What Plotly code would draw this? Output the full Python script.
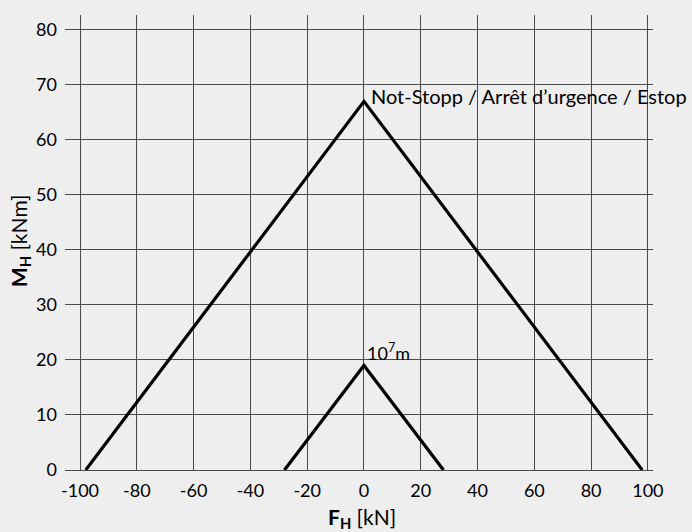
import plotly.graph_objects as go

# Emergency-stop envelope and 10^7 m service envelope (F_H vs M_H)
estop_fh = [-98, 0, 98]
estop_mh = [0, 67, 0]
service_fh = [-28, 0, 28]
service_mh = [0, 19, 0]

x_ticks = [-100, -80, -60, -40, -20, 0, 20, 40, 60, 80, 100]
y_ticks = [0, 10, 20, 30, 40, 50, 60, 70, 80]

estop_label = "Not-Stopp / Arrêt d’urgence / Estop"
service_label = "10<sup>7</sup>m"
x_title = "<b>F<sub>H</sub></b> [kN]"
y_title = "<b>M<sub>H</sub></b> [kNm]"

FONT = "Lato"
BG = "#eeeeee"
GRID = "#4a4a4a"

fig = go.Figure()
fig.add_trace(go.Scatter(x=estop_fh, y=estop_mh, mode="lines",
                         line=dict(color="black", width=3.2), hoverinfo="skip"))
fig.add_trace(go.Scatter(x=service_fh, y=service_mh, mode="lines",
                         line=dict(color="black", width=3.2), hoverinfo="skip"))

fig.add_annotation(x=0, y=estop_mh[1], text=estop_label, showarrow=False,
                   xanchor="left", yanchor="middle", xshift=5, yshift=5,
                   font=dict(family=FONT, size=20, color="black"))
fig.add_annotation(x=0, y=service_mh[1], text=service_label, showarrow=False,
                   xanchor="left", yanchor="bottom", xshift=1, yshift=-1,
                   font=dict(family=FONT, size=18, color="black"))

# Axis titles placed in paper coordinates so the margins stay fixed
fig.add_annotation(xref="paper", yref="paper", x=0.505, y=-0.1055, text=x_title,
                   showarrow=False, xanchor="center", yanchor="middle",
                   font=dict(family=FONT, size=21, color="black"))
fig.add_annotation(xref="paper", yref="paper", x=-0.0765, y=0.503, text=y_title,
                   showarrow=False, xanchor="center", yanchor="middle", textangle=-90,
                   font=dict(family=FONT, size=21, color="black"))

fig.update_layout(
    width=692, height=532,
    margin=dict(l=65, r=39, t=15, b=62),
    paper_bgcolor=BG, plot_bgcolor=BG,
    showlegend=False,
    font=dict(family=FONT, size=18, color="black"),
    xaxis=dict(
        range=[-105.3, 101.8], tickvals=x_ticks, ticktext=[str(v) for v in x_ticks],
        showgrid=True, gridcolor=GRID, gridwidth=1, zeroline=False,
        showline=True, linecolor=GRID, linewidth=1,
        ticks="", ticklabelstandoff=4, automargin=False,
        fixedrange=True,
    ),
    yaxis=dict(
        range=[0, 82.7], tickvals=y_ticks, ticktext=[str(v) for v in y_ticks],
        showgrid=True, gridcolor=GRID, gridwidth=1, zeroline=False,
        showline=False, ticks="", ticklabelstandoff=7, automargin=False,
        fixedrange=True,
    ),
)

fig.write_html("out.html")
